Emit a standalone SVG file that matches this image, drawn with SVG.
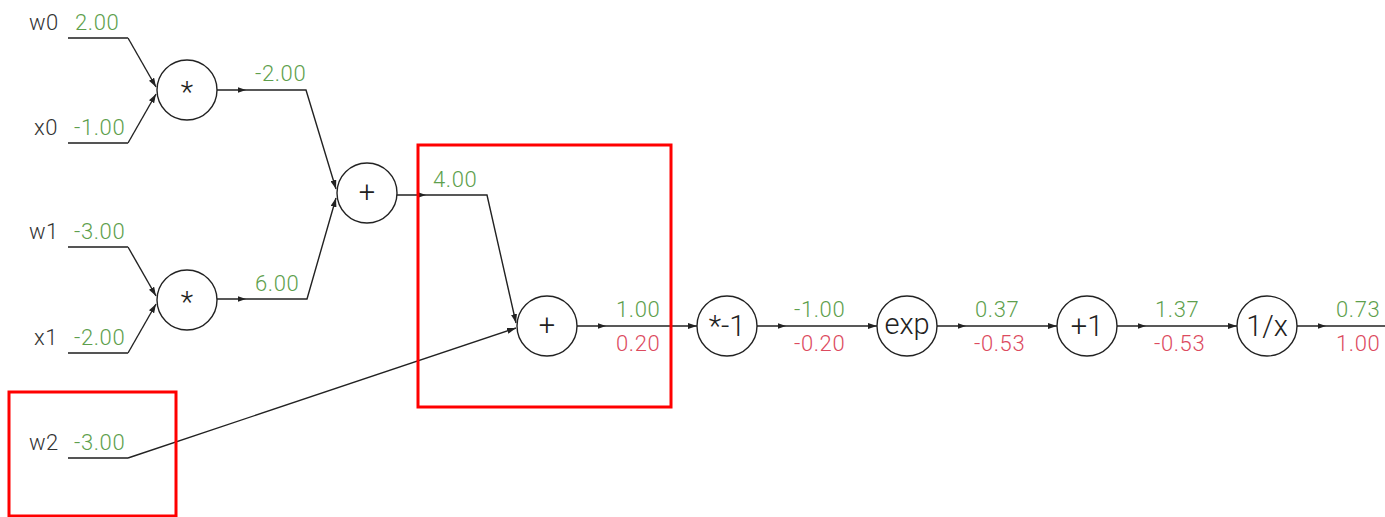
<svg xmlns="http://www.w3.org/2000/svg" width="1385" height="517" viewBox="0 0 1385 517">
<defs>
<marker id="ah" viewBox="0 0 9 6" refX="9" refY="3" markerWidth="9" markerHeight="6" markerUnits="userSpaceOnUse" orient="auto">
<path d="M0,0 L9,3 L0,6 Z" fill="#222"/>
</marker>
<path id="mid" d="M-8,-2.8 L0,0 L-8,2.8 Z" fill="#222"/>
</defs>
<style>
.lbl{font-family:Roboto,"Liberation Sans",sans-serif;font-size:22px;fill:#333;font-weight:300;letter-spacing:0.5px}
.val{font-family:Roboto,"Liberation Sans",sans-serif;font-size:22px;fill:#5e9f4d;font-weight:300;letter-spacing:0.6px}
.grad{font-family:Roboto,"Liberation Sans",sans-serif;font-size:22px;fill:#dc4a5e;font-weight:300;letter-spacing:0.6px}
.op{font-family:Roboto,"Liberation Sans",sans-serif;font-size:29px;fill:#222;font-weight:300;text-anchor:middle}
.inl{stroke:#555;stroke-width:2.2;fill:none}
.edge{stroke:#222;stroke-width:1.4;fill:none}
.circ{fill:#fff;stroke:#222;stroke-width:1.4}
.hl{fill:none;stroke:#f00;stroke-width:3}
</style>
<rect width="1385" height="517" fill="#fff"/>
<g id="connectors">
<path class="edge" d="M128,38 L156,87" marker-end="url(#ah)"/>
<path class="edge" d="M128,143 L156,94" marker-end="url(#ah)"/>
<path class="edge" d="M217,90 H306 L336,189" marker-end="url(#ah)"/>
<use href="#mid" x="246" y="90"/>
<path class="edge" d="M128,247 L156,296" marker-end="url(#ah)"/>
<path class="edge" d="M128,353 L156,304" marker-end="url(#ah)"/>
<path class="edge" d="M217,299 H307 L336,198" marker-end="url(#ah)"/>
<use href="#mid" x="246" y="299"/>
<path class="edge" d="M397,195 H487 L516,323" marker-end="url(#ah)"/>
<use href="#mid" x="426" y="195"/>
<path class="edge" d="M128,458 L516,328" marker-end="url(#ah)"/>
<path class="edge" d="M577,326 H697" marker-end="url(#ah)"/>
<use href="#mid" x="606" y="326"/>
<path class="edge" d="M757,326 H877" marker-end="url(#ah)"/>
<use href="#mid" x="786" y="326"/>
<path class="edge" d="M937,326 H1057" marker-end="url(#ah)"/>
<use href="#mid" x="966" y="326"/>
<path class="edge" d="M1117,326 H1237" marker-end="url(#ah)"/>
<use href="#mid" x="1146" y="326"/>
<path class="edge" d="M1297,326 H1385"/>
<use href="#mid" x="1326" y="326"/>
</g>
<g id="in-w0"><text class="lbl" x="29" y="30">w0</text><text class="val" x="75" y="30">2.00</text><path class="inl" d="M68,38 H128"/></g>
<g id="in-x0"><text class="lbl" x="34" y="135">x0</text><text class="val" x="74" y="135">-1.00</text><path class="inl" d="M68,143 H128"/></g>
<g id="in-w1"><text class="lbl" x="29" y="239">w1</text><text class="val" x="74" y="239">-3.00</text><path class="inl" d="M68,247 H128"/></g>
<g id="in-x1"><text class="lbl" x="34" y="345">x1</text><text class="val" x="74" y="345">-2.00</text><path class="inl" d="M68,353 H128"/></g>
<g id="in-w2"><text class="lbl" x="29" y="450">w2</text><text class="val" x="74" y="450">-3.00</text><path class="inl" d="M68,458 H128"/></g>
<g id="mul0"><circle class="circ" cx="187" cy="90" r="30"/><text class="op" x="187" y="102">*</text></g>
<g id="mul1"><circle class="circ" cx="187" cy="300" r="30"/><text class="op" x="187" y="312">*</text></g>
<g id="add0"><circle class="circ" cx="367" cy="193" r="30"/><text class="op" x="367" y="202">+</text></g>
<g id="add1"><circle class="circ" cx="547" cy="326" r="30"/><text class="op" x="547" y="335">+</text></g>
<g id="neg"><circle class="circ" cx="727" cy="326" r="30"/><text class="op" x="727" y="336">*-1</text></g>
<g id="exp"><circle class="circ" cx="907" cy="326" r="30"/><text class="op" x="907" y="334">exp</text></g>
<g id="plus1"><circle class="circ" cx="1087" cy="326" r="30"/><text class="op" x="1087" y="336">+1</text></g>
<g id="inv"><circle class="circ" cx="1267" cy="326" r="30"/><text class="op" x="1267" y="336">1/x</text></g>
<g id="labels">
<text class="val" x="255" y="81">-2.00</text>
<text class="val" x="255" y="291">6.00</text>
<text class="val" x="433" y="187">4.00</text>
<text class="val" x="616" y="317">1.00</text><text class="grad" x="616" y="351">0.20</text>
<text class="val" x="794" y="317">-1.00</text><text class="grad" x="794" y="351">-0.20</text>
<text class="val" x="975" y="317">0.37</text><text class="grad" x="974" y="351">-0.53</text>
<text class="val" x="1155" y="317">1.37</text><text class="grad" x="1154" y="351">-0.53</text>
<text class="val" x="1336" y="317">0.73</text><text class="grad" x="1336" y="351">1.00</text>
</g>
<g id="highlights">
<rect class="hl" x="418" y="145" width="253" height="262"/>
<rect class="hl" x="9" y="392" width="167" height="124"/>
</g>
</svg>
